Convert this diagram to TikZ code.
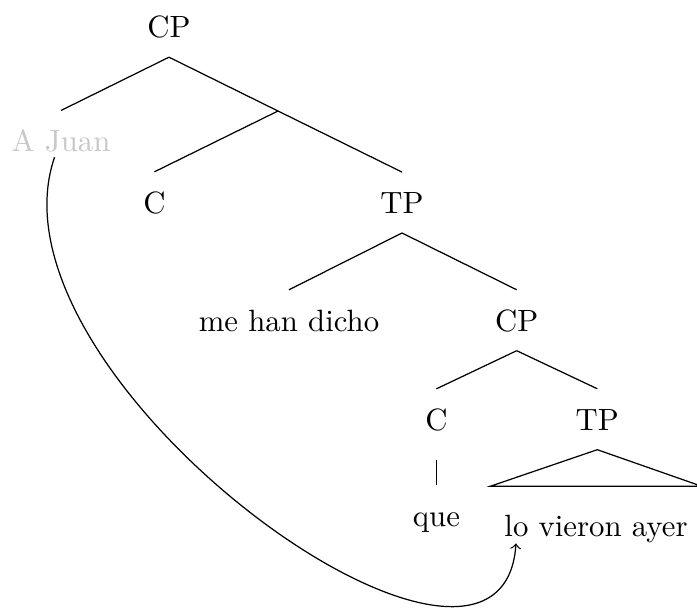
\documentclass[tikz,border=0pt]{standalone}
\usepackage{tikz}
\usepackage{xcolor}
\definecolor{ghost}{RGB}{200,200,200}

\begin{document}
\begin{tikzpicture}[x=0.325pt, y=-0.325pt,
        lbl/.style={anchor=base, inner sep=3.2pt, text height=10pt, text depth=3pt},
        roofleaf/.style={anchor=base, inner xsep=4.3pt, inner ysep=3.2pt, text height=12.8pt, text depth=3pt}]
    \useasboundingbox (0,0) rectangle (697,610);

    % Top level
    \node[lbl] (cp) at (169,37.5) {CP};
    \node[lbl, text=ghost] (ajuan) at (61,151.7) {A Juan};
    \coordinate (cbar) at (278,111);
    \node[lbl] (c) at (154.5,213) {C};
    \node[lbl] (tp) at (402,213.3) {TP};

    % Embedded clause
    \node[lbl] (mhd) at (289,331) {me han dicho};
    \node[lbl] (cpb) at (516.7,331) {CP};
    \node[lbl] (cb) at (436.5,430) {C};
    \node[lbl] (tpb) at (597.3,430) {TP};

    % Leaves
    \node[lbl] (que) at (436.5,526.7) {que};
    \node[roofleaf] (lva) at (596,536) {lo vieron ayer};
    \coordinate (loend) at ([shift={(-26pt,-2.4pt)}]lva.base);

    % Branches
    \draw (cp.south) -- (ajuan.north);
    \draw (cp.south) -- (cbar) -- (tp.north);
    \draw (cbar) -- (c.north);
    \draw (tp.south) -- (mhd.north);
    \draw (tp.south) -- (cpb.north);
    \draw (cpb.south) -- (cb.north);
    \draw (cpb.south) -- (tpb.north);
    \draw[shorten <=3.3pt] (cb.south) -- (que.north);
    \draw (tpb.south) -- (lva.north east) -- (lva.north west) -- cycle;

    % Movement
    \draw[->] ([shift={(-2.1pt,-1.8pt)}]ajuan.base) .. controls (-22,380) and (502,755) .. (loend);
\end{tikzpicture}
\end{document}
